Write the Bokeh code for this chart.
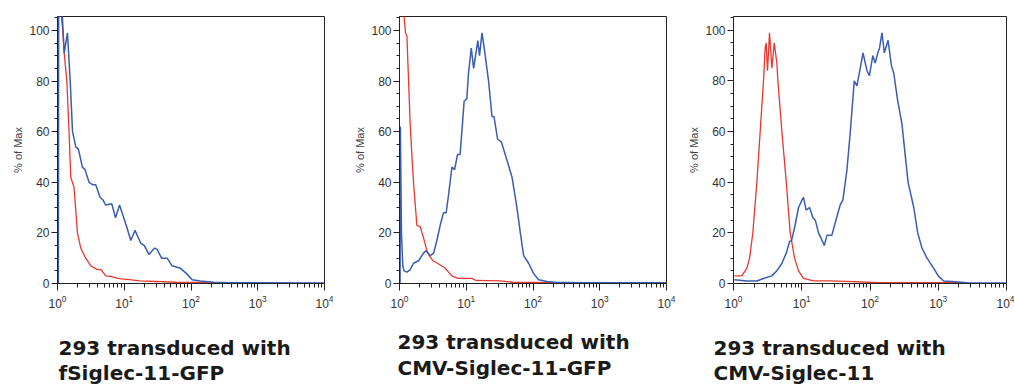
from bokeh.plotting import figure
from bokeh.layouts import row, column
from bokeh.models import FixedTicker, Range1d
from bokeh.core.properties import value
from bokeh.embed import file_html
from bokeh.resources import INLINE

# ---------------- data (MFI, % of Max) ----------------
p1_blue_x = [1.0, 1.03, 1.04, 1.17, 1.26, 1.41, 1.55, 1.68, 1.88, 2.06, 2.36, 2.59, 2.97, 3.4, 3.74,
             4.35, 4.8, 5.28, 6.5, 7.4, 8.5, 10.1, 11, 12.5, 14.5, 17.6, 20, 23.4, 28.5, 31, 36.3,
             44, 52, 69.6, 85, 104, 138, 219, 400, 10000]
p1_blue_y = [0, 0, 110, 108, 91, 99, 80, 60, 54, 53, 46, 45, 40, 39, 39,
             34, 33, 31, 31.5, 26, 31, 25, 22, 17, 21, 16, 15, 11.5, 14, 13.5, 10,
             10, 7, 6, 4, 1.5, 1, 0.5, 0.3, 0.2]
p1_red_x = [1.1, 1.2, 1.26, 1.38, 1.49, 1.58, 1.77, 1.99, 2.23, 2.65, 3.15, 3.96, 4.5, 5.28, 6.26,
            7.5, 9, 12, 17, 30, 60, 120, 230]
p1_red_y = [110, 100, 91, 80, 60, 42, 38, 20, 14, 10, 7, 5.5, 5.5, 3, 2.8,
            2.2, 1.8, 1.5, 1, 0.8, 0.5, 0.4, 0.3]

p2_blue_x = [1.02, 1.03, 1.07, 1.12, 1.17, 1.29, 1.45, 1.62, 1.93, 2.29, 2.51, 2.88, 3.24, 3.63,
             4.07, 4.57, 5.0, 5.43, 6.1, 6.7, 7.4, 8.1, 9.3, 10.2, 10.8, 11.9, 12.9, 14.9, 15.8,
             17.2, 18.6, 21.6, 24.3, 26, 29.5, 33.5, 39.4, 48.5, 57.5, 64.6, 72.4, 86, 102, 121,
             162, 220, 500, 10000]
p2_blue_y = [0, 62, 20, 7, 5, 4.5, 5.5, 8, 9, 12, 13, 11, 12, 17,
             23, 28, 28, 35, 46, 45, 51, 51, 72, 73, 83, 93, 85, 96, 90,
             99, 93, 80, 66, 66, 57, 56, 50, 42, 30, 20, 11, 8, 4, 1.5,
             0.8, 0.5, 0.3, 0.3]
p2_red_x = [1.02, 1.15, 1.23, 1.29, 1.45, 1.62, 1.82, 2.04, 2.29, 2.63, 3.16, 3.72, 4.84, 6.1,
            7.5, 12.1, 14, 32, 50, 200]
p2_red_y = [110, 108, 99, 98, 62, 40, 23, 22.5, 18, 12, 9, 8, 6, 3,
            2, 2, 1.2, 1, 0.5, 0.3]

p3_red_x = [1.03, 1.32, 1.57, 1.72, 1.92, 2.2, 2.46, 2.75, 2.91, 3.01, 3.15, 3.37, 3.65, 3.95,
            4.32, 4.47, 5.12, 5.93, 6.77, 7.85, 8.98, 10.6, 14.9, 25, 46, 142, 2400]
p3_red_y = [3, 3, 6, 10, 20, 40, 60, 80, 93, 95, 84, 99, 85, 95,
            87, 80, 60, 40, 20, 10, 5, 2, 1, 1, 0.8, 0.3, 0.3]
p3_blue_x = [1.03, 1.57, 2.2, 2.75, 3.65, 4.32, 5.12, 5.93, 6.63, 7.1, 7.85, 8.98, 10.1, 10.6,
             11.6, 13, 14.6, 15.8, 17.6, 19.1, 21.4, 23.4, 27.6, 30.9, 36.6, 40.1, 46, 51.5,
             58.8, 64.3, 72, 79, 90.4, 97.9, 110, 119, 130, 138, 150, 162, 184, 206, 223, 255,
             294, 330, 361, 438, 500, 577, 684, 860, 1000, 1200, 1600, 2660, 10000]
p3_blue_y = [1.5, 1, 1, 2, 3, 5, 8, 12, 16.5, 17, 22, 30, 33, 34,
             29, 30, 26, 25, 20, 18, 15, 19, 19, 24, 31, 33, 45, 60,
             80, 78, 85, 91, 84, 82, 90, 87, 91, 93, 99, 91, 96, 86, 83, 72,
             63, 50, 40, 30, 20, 14, 10, 6, 3, 1, 0.8, 0.3, 0.2]

x_ticks = [1, 10, 100, 1000, 10000]
y_ticks = [0, 20, 40, 60, 80, 100]
y_label = "% of Max"
caption_line1 = ["293 transduced with", "293 transduced with", "293 transduced with"]
caption_line2 = ["fSiglec-11-GFP", "CMV-Siglec-11-GFP", "CMV-Siglec-11"]

RED = "#e8372e"
BLUE = "#3a5daf"
AX = "#222222"
LBL = "#333333"

x_minor = [d * m for d in x_ticks[:-1] for m in range(2, 10)]
y_minor = list(range(0, 106, 5))


def make_panel(width, height, bl, br, bt, bb, ytop, blue, red, axis_std):
    p = figure(width=width, height=height, x_axis_type="log",
               x_range=Range1d(1, 10000), y_range=Range1d(0, ytop),
               output_backend="svg", toolbar_location=None,
               min_border_left=bl, min_border_right=br, min_border_top=bt, min_border_bottom=bb)
    p.grid.visible = False
    p.outline_line_color = AX
    p.outline_line_alpha = 1
    p.outline_line_width = 1
    p.background_fill_color = "white"
    p.border_fill_color = "white"

    p.xaxis.ticker = FixedTicker(ticks=x_ticks, minor_ticks=x_minor)
    p.yaxis.ticker = FixedTicker(ticks=y_ticks, minor_ticks=y_minor)
    for ax in (p.xaxis, p.yaxis):
        ax.axis_line_color = AX
        ax.major_tick_line_color = AX
        ax.minor_tick_line_color = AX
        ax.major_tick_in = 0
        ax.minor_tick_in = 0
        ax.major_label_text_font = "Liberation Sans"
        ax.major_label_text_font_size = "12px"
        ax.major_label_text_color = LBL
    p.xaxis.major_tick_out = 7
    p.xaxis.minor_tick_out = 4
    p.xaxis.major_label_standoff = 4
    p.yaxis.major_tick_out = 6
    p.yaxis.minor_tick_out = 3
    p.yaxis.major_label_standoff = 2
    p.yaxis.axis_label = y_label
    p.yaxis.axis_label_text_font = "Liberation Sans"
    p.yaxis.axis_label_text_font_size = "11px"
    p.yaxis.axis_label_text_font_style = "normal"
    p.yaxis.axis_label_text_color = "#444444"
    p.yaxis.axis_label_standoff = axis_std

    p.line(red[0], red[1], line_color=RED, line_width=1.3)
    p.line(blue[0], blue[1], line_color=BLUE, line_width=1.5)
    return p


H = 318
p1 = make_panel(349, H, 57, 25, 15, 35, 105.5, (p1_blue_x, p1_blue_y), (p1_red_x, p1_red_y), 2)
p2 = make_panel(334, H, 50, 17, 15, 35, 105.5, (p2_blue_x, p2_blue_y), (p2_red_x, p2_red_y), 2)
p3 = make_panel(331, H, 50, 8, 16, 29, 105.4, (p3_blue_x, p3_blue_y), (p3_red_x, p3_red_y), 2)

# caption strip (screen-like coordinates: x from left, y from top)
CW, CH = 1014, 68
cap = figure(width=CW, height=CH, x_range=Range1d(0, CW), y_range=Range1d(CH, 0),
             title=None, output_backend="svg", toolbar_location=None,
             x_axis_location=None, y_axis_location=None,
             min_border=0, min_border_left=0, min_border_right=0,
             min_border_top=0, min_border_bottom=0)
cap.grid.visible = False
cap.outline_line_color = None
cap_x = [58, 397, 713]
cap_y1 = [29, 23, 29]
cap_y2 = [54, 49, 54]
cap.text(x=cap_x + cap_x, y=cap_y1 + cap_y2, text=caption_line1 + caption_line2,
         text_font=value("DejaVu Sans"), text_font_style="bold", text_font_size="20px",
         text_color="#1a1a1a", text_baseline="alphabetic", text_align="left")

layout = column(row(p1, p2, p3), cap)
open("out.html", "w").write(file_html(layout, INLINE))
